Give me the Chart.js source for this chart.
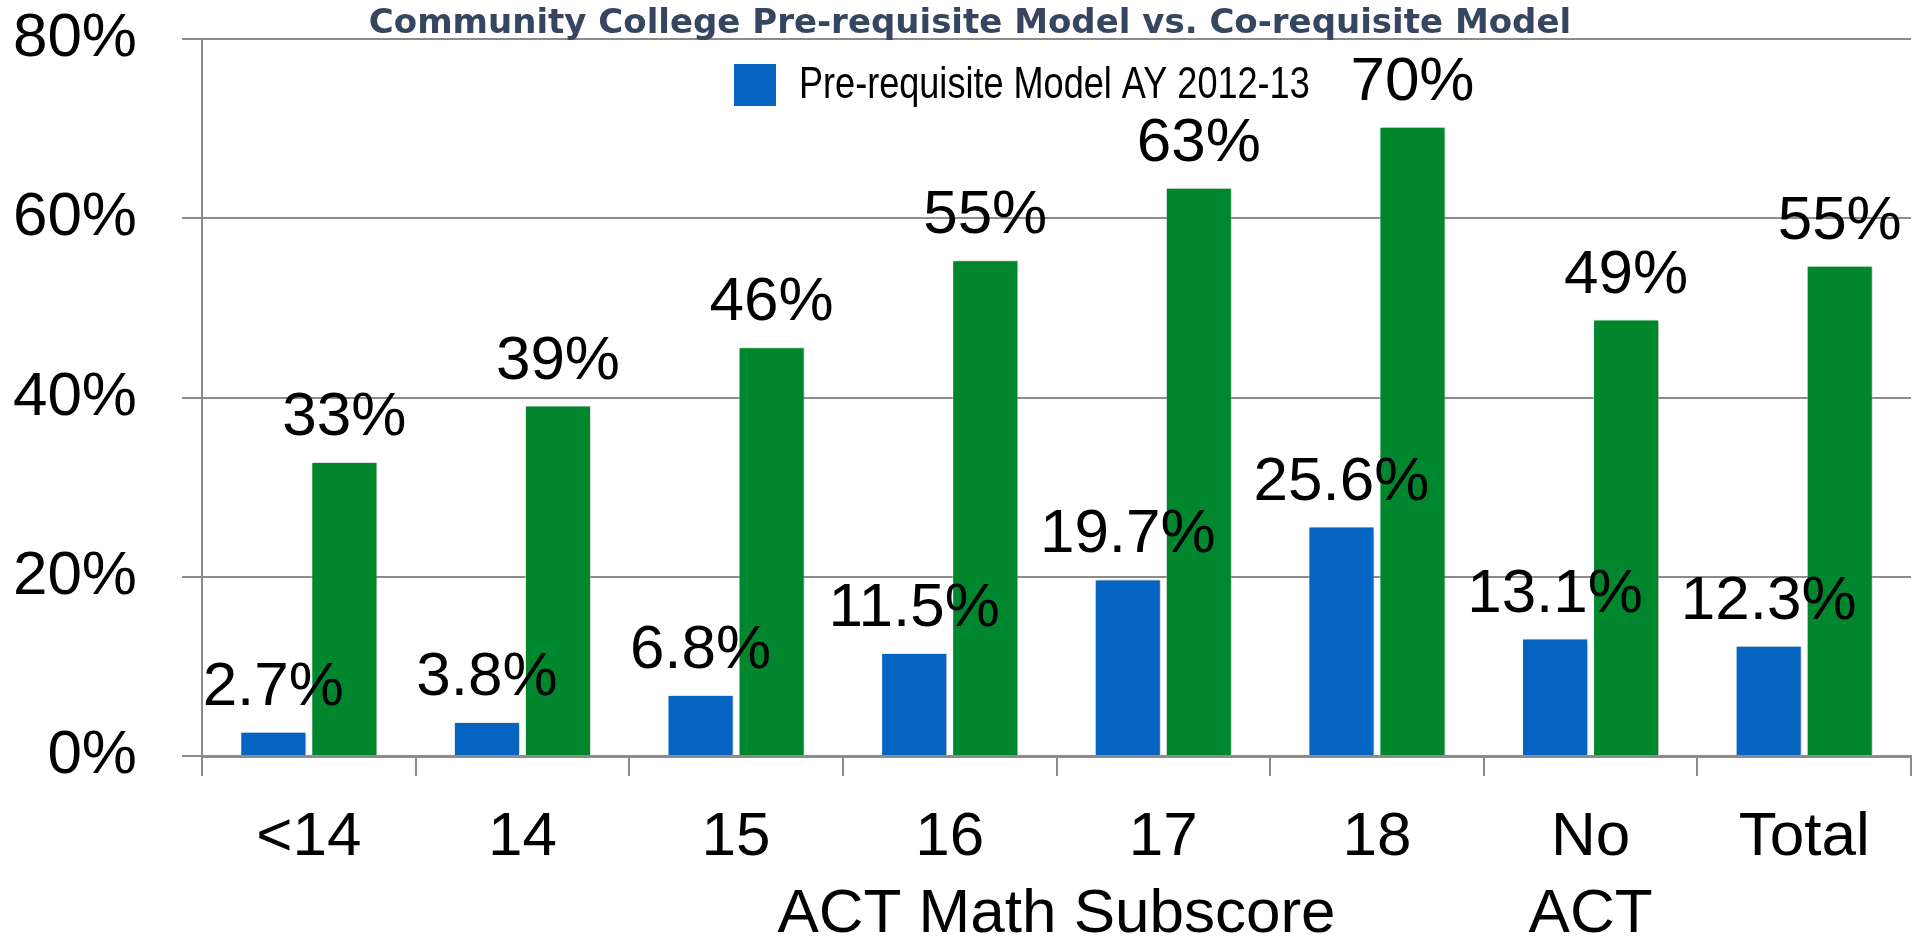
<!DOCTYPE html>
<html>
<head>
<meta charset="utf-8">
<script src="https://cdn.jsdelivr.net/npm/chart.js@4"></script>
<style>
  html, body { margin: 0; padding: 0; background: #fff; }
  #wrap { width: 1913px; height: 946px; }
</style>
</head>
<body>
<div id="wrap"><canvas id="chart"></canvas></div>
<script>
const categories = ['<14', '14', '15', '16', '17', '18', ['No', 'ACT'], 'Total'];
const preReq = [2.7, 3.8, 6.8, 11.5, 19.7, 25.6, 13.1, 12.3];
const coReq = [32.8, 39.1, 45.6, 55.3, 63.4, 70.2, 48.7, 54.7];
const seriesNames = ['Pre-requisite Model AY 2012-13', 'Co-requisite Model Fall 2014'];
const titleText = 'Community College Pre-requisite Model vs. Co-requisite Model';
const axisTitle = 'ACT Math Subscore';

const blue = '#0563c1';
const green = '#00872d';
const gridGray = '#8c8c8c';
const bigFont = { family: '"Liberation Sans", Arial, sans-serif', size: 62 };

// bar shadow + value labels, title and the single legend entry
const decorations = {
    id: 'decorations',
    beforeDatasetsDraw(chart) {
        const ctx = chart.ctx;
        ctx.save();
        ctx.shadowColor = 'rgba(0,0,0,0.3)';
        ctx.shadowBlur = 3;
        ctx.shadowOffsetX = 1.5;
    },
    afterDatasetsDraw(chart) {
        const ctx = chart.ctx;
        ctx.restore();
        ctx.save();
        ctx.font = '62px "Liberation Sans", Arial, sans-serif';
        ctx.fillStyle = '#000';
        ctx.textAlign = 'center';
        ctx.textBaseline = 'alphabetic';
        chart.data.datasets.forEach((ds, i) => {
            const meta = chart.getDatasetMeta(i);
            meta.data.forEach((bar, j) => {
                const v = ds.data[j];
                const txt = (i === 0 ? v.toFixed(1) : Math.round(v)) + '%';
                ctx.fillText(txt, bar.x, bar.y - 27);
            });
        });
        ctx.restore();
    },
    afterDraw(chart) {
        const ctx = chart.ctx;
        ctx.save();
        ctx.font = 'bold 34px "DejaVu Sans", Verdana, sans-serif';
        ctx.fillStyle = '#364660';
        ctx.textAlign = 'center';
        ctx.textBaseline = 'alphabetic';
        ctx.fillText(titleText, 970, 33);

        ctx.fillStyle = chart.data.datasets[0].backgroundColor;
        ctx.fillRect(734, 64, 42, 42);
        ctx.translate(799, 86);
        ctx.scale(0.82, 1);
        ctx.font = '44px "Liberation Sans", Arial, sans-serif';
        ctx.fillStyle = '#000';
        ctx.textAlign = 'left';
        ctx.textBaseline = 'middle';
        ctx.fillText(chart.data.datasets[0].label, 0, 0);
        ctx.restore();
    }
};

new Chart(document.getElementById('chart'), {
    type: 'bar',
    data: {
        labels: categories,
        datasets: [
            { label: seriesNames[0], data: preReq, backgroundColor: blue,
              borderColor: 'rgba(255,255,255,0.5)', borderWidth: 1 },
            { label: seriesNames[1], data: coReq, backgroundColor: green,
              borderColor: 'rgba(255,255,255,0.5)', borderWidth: 1 }
        ]
    },
    options: {
        responsive: true,
        maintainAspectRatio: false,
        animation: false,
        categoryPercentage: 0.665,
        barPercentage: 0.93,
        layout: { padding: { top: 0, right: 2, left: 0, bottom: 0 } },
        plugins: {
            legend: { display: false },
            title: { display: false },
            tooltip: { enabled: false }
        },
        scales: {
            x: {
                afterFit(scale) { scale.height = 190; },
                grid: { drawOnChartArea: false, color: gridGray, lineWidth: 2, tickLength: 20, offset: true },
                border: { display: true, color: gridGray, width: 3 },
                ticks: { font: { ...bigFont, lineHeight: 1.25 }, color: '#000', padding: 23,
                         maxRotation: 0, autoSkip: false },
                title: { display: true, text: axisTitle, color: '#000',
                         font: { ...bigFont, lineHeight: 1 }, padding: 0 }
            },
            y: {
                min: 0,
                max: 80,
                afterFit(scale) {
                    scale.width = 202;
                    scale.paddingTop = 39;
                    scale.paddingBottom = 0;
                },
                grid: { color: gridGray, lineWidth: 2, tickLength: 20 },
                border: { display: true, color: gridGray, width: 2 },
                ticks: { stepSize: 20, font: bigFont, color: '#000', padding: 45,
                         callback: v => v + '%' }
            }
        }
    },
    plugins: [decorations]
});
</script>
</body>
</html>
